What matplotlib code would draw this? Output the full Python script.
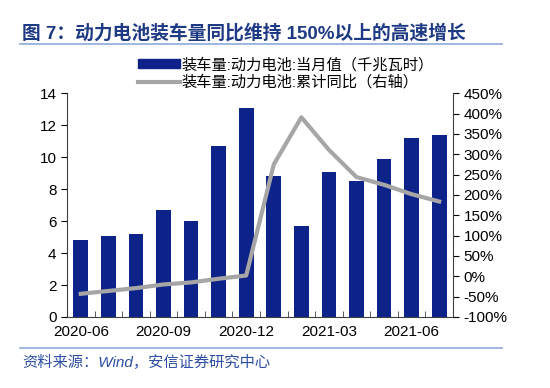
import matplotlib.pyplot as plt
import numpy as np
from matplotlib.lines import Line2D

plt.rcParams['font.family'] = ['Liberation Sans', 'Noto Sans CJK SC', 'DejaVu Sans']

months = ['2020-06', '2020-07', '2020-08', '2020-09', '2020-10', '2020-11', '2020-12',
          '2021-01', '2021-02', '2021-03', '2021-04', '2021-05', '2021-06', '2021-07']
monthly_gwh = [4.8, 5.1, 5.2, 6.7, 6.0, 10.7, 13.1, 8.8, 5.7, 9.1, 8.5, 9.9, 11.2, 11.4]
cum_yoy = [-43, -36, -29, -20, -15, -6, 2, 275, 391, 311, 244, 225, 202, 184]
tick_labels = ['2020-06', '2020-09', '2020-12', '2021-03', '2021-06']

bar_color = '#0D238A'
line_color = '#A6A6A6'
title_color = '#1F3A84'

fig = plt.figure(figsize=(5.5, 3.88), dpi=100)
ax = fig.add_axes([0.1218, 0.183, 0.7018, 0.5765])
ax2 = ax.twinx()

x = np.arange(len(months))
ax.bar(x, monthly_gwh, width=0.53, color=bar_color, zorder=2)
ax2.plot(x, cum_yoy, color=line_color, linewidth=3, zorder=3)

ax.set_xlim(-0.5, len(months) - 0.5)
ax.set_ylim(0, 14)
ax.set_yticks(range(0, 15, 2))
ax2.set_ylim(-100, 450)
ax2.set_yticks(range(-100, 451, 50))
ax2.set_yticklabels([f'{v}%' for v in range(-100, 451, 50)])

ax.set_xticks([months.index(m) for m in tick_labels])
ax.set_xticklabels(tick_labels)
ax.tick_params(axis='x', length=0, labelsize=11, pad=6)
ax.set_xticks(x[:-1] + 0.5, minor=True)
ax.tick_params(axis='x', which='minor', direction='in', length=4, color='#404040')
ax.tick_params(axis='y', direction='out', length=4, labelsize=11)
ax2.tick_params(axis='y', direction='out', length=4, labelsize=11)

for a in (ax, ax2):
    a.spines['top'].set_visible(False)
    for s in ('left', 'right', 'bottom'):
        a.spines[s].set_color('#404040')
ax.spines['right'].set_visible(False)
ax2.spines['left'].set_visible(False)
ax2.spines['bottom'].set_visible(False)

handles = [plt.Rectangle((0, 0), 1, 1, color=bar_color),
           Line2D([0], [0], color=line_color, linewidth=3)]
labels = ['装车量:动力电池:当月值（千兆瓦时）', '装车量:动力电池:累计同比（右轴）']
fig.legend(handles, labels, loc='center', bbox_to_anchor=(0.52, 0.81), frameon=False,
           fontsize=11, handlelength=2.7, handleheight=0.55, handletextpad=0.1,
           labelspacing=0.2, borderaxespad=0)

fig.text(0.04, 0.915, '图 7：动力电池装车量同比维持 150%以上的高速增长',
         fontsize=13.5, fontweight='bold', color=title_color, va='center')
fig.add_artist(Line2D([0.036, 0.913], [0.887, 0.887], color='#8EA9DB', linewidth=1.2))
fig.add_artist(Line2D([0.036, 0.913], [0.102, 0.102], color='#8EA9DB', linewidth=1.2))
fig.text(0.04, 0.067, '资料来源：Wind，安信证券研究中心', fontsize=11,
         color='#2E4FA3', style='italic', va='center')

fig.savefig('out.png', dpi=100)
